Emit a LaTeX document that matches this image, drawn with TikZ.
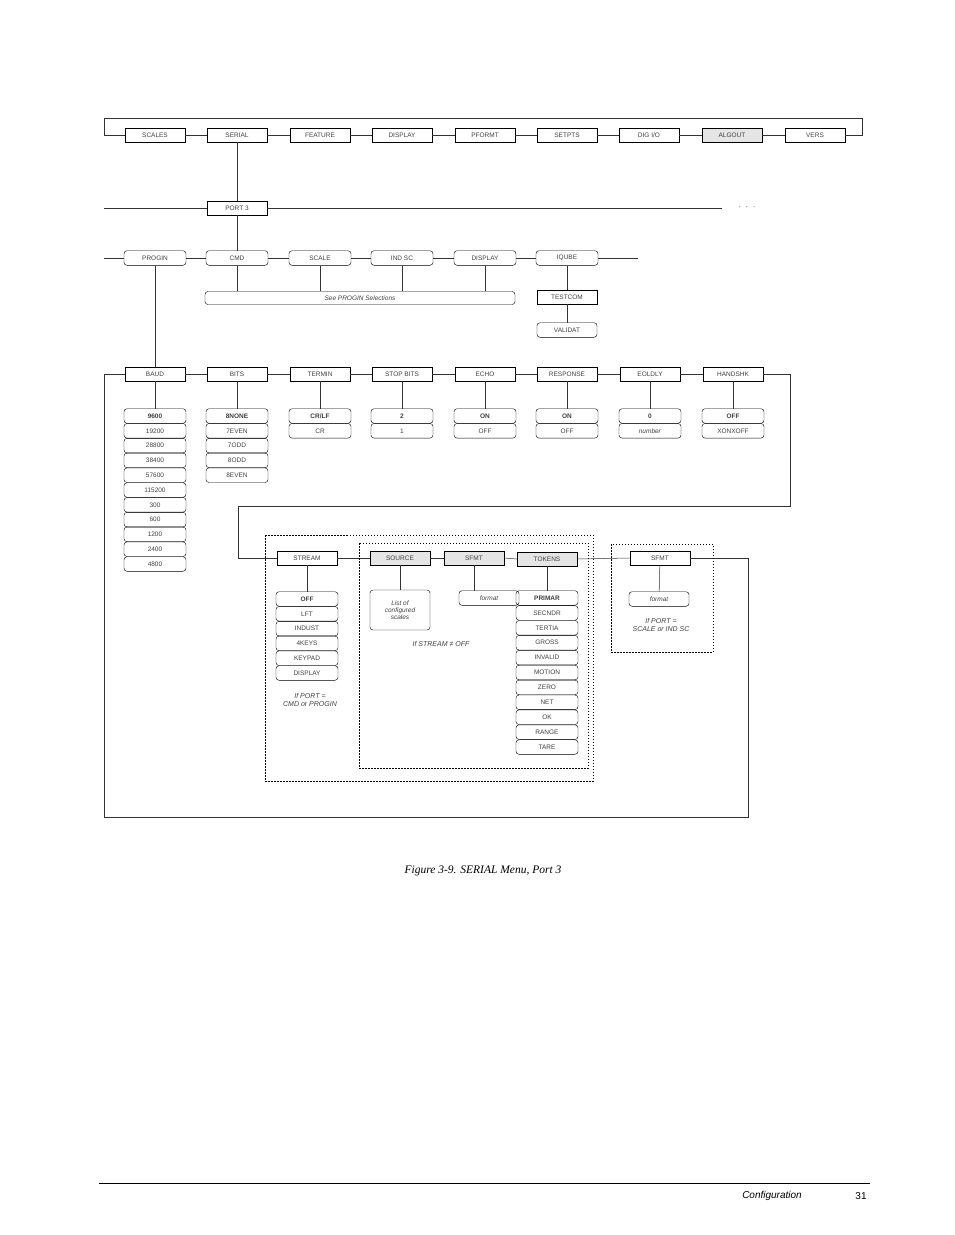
\documentclass[tikz,border=0pt]{standalone}
\usepackage{fontspec}
\setmainfont{Liberation Sans}
\newfontfamily\capfont{Liberation Serif}
\usetikzlibrary{positioning}

\tikzset{
  menu/.style={draw,shape=rectangle,minimum width=60pt,minimum height=14pt,
               inner sep=0pt,font=\fontsize{6.5}{7}\selectfont,text=black!75},
  shaded/.style={menu,fill=black!10},
  opt/.style={menu,rounded corners=3pt,minimum width=62pt,minimum height=14.6pt},
  note/.style={font=\fontsize{7}{8}\selectfont\itshape,text=black!75,align=center},
  wire/.style={draw,black!80,line width=0.5pt},
  fence/.style={draw,dashed,dash pattern=on 1.5pt off 1.5pt,line width=0.5pt}
}

\begin{document}
\begin{tikzpicture}[x=1pt,y=-1pt]
\useasboundingbox (0,0) rectangle (954,1235);

% Top level menu
\foreach \name/\lbl/\x in {scales/SCALES/155,serial/SERIAL/237,feature/FEATURE/320,
    display/DISPLAY/402,pformt/PFORMT/485,setpts/SETPTS/567,digio/DIG I\slash O/649,
    vers/VERS/815}
  \node [menu] (\name) at (\x,135) {\lbl};
\node [shaded] (algout) at (732,135) {ALGOUT};
\coordinate (tl) at (104,118);
\coordinate (tr) at (862,118);
\draw [wire] (scales.west) -- (104,135) -- (tl) -- (tr) -- (862,135) -- (vers.east);
\foreach \a/\b in {scales/serial,serial/feature,feature/display,display/pformt,
    pformt/setpts,setpts/digio,digio/algout,algout/vers}
  \draw [wire] (\a.east) -- (\b.west);

% Port 3
\node [menu] (port) at (237,208) {PORT 3};
\coordinate (portl) at (104,208);
\coordinate (portr) at (722,208);
\draw [wire] (serial) -- (port);
\draw [wire] (portl) -- (port.west);
\draw [wire] (port.east) -- (portr);
\node [font=\fontsize{9}{9}\selectfont] (more) at (747,207) {$\cdot\ \cdot\ \cdot$};

% Port modes
\foreach \name/\lbl/\x in {progin/PROGIN/155,cmd/CMD/237,scale/SCALE/320,
    indsc/IND SC/402,pdisp/DISPLAY/485,iqube/IQUBE/567}
  \node [opt] (\name) at (\x,258) {\lbl};
\coordinate (model) at (104,258);
\coordinate (moder) at (638,258);
\draw [wire] (model) -- (progin.west);
\draw [wire] (iqube.east) -- (moder);
\foreach \a/\b in {progin/cmd,cmd/scale,scale/indsc,indsc/pdisp,pdisp/iqube}
  \draw [wire] (\a.east) -- (\b.west);
\draw [wire] (port) -- (cmd);

\node [opt,minimum width=310pt,minimum height=13pt,font=\fontsize{6.5}{7}\selectfont\itshape]
  (seeprog) at (360,298) {See PROGIN Selections};
\foreach \a in {cmd,scale,indsc,pdisp}
  \draw [wire] (\a.south) -- (\a.south |- seeprog.north);

\node [menu] (testcom) at (567,297) {TESTCOM};
\node [opt,minimum width=60pt] (validat) at (567,330) {VALIDAT};
\draw [wire] (iqube) -- (testcom);
\draw [wire] (testcom) -- (validat);

% Serial parameters
\foreach \name/\lbl/\x in {baud/BAUD/155,bits/BITS/237,termin/TERMIN/320,
    stopb/STOP BITS/402,echo/ECHO/485,resp/RESPONSE/567,eoldly/EOLDLY/650,
    handshk/HANDSHK/733}
  \node [menu] (\name) at (\x,374) {\lbl};
\foreach \a/\b in {baud/bits,bits/termin,termin/stopb,stopb/echo,echo/resp,
    resp/eoldly,eoldly/handshk}
  \draw [wire] (\a.east) -- (\b.west);
\draw [wire] (progin) -- (baud);

% Value lists
\foreach \lbl [count=\i] in {19200,28800,38400,57600,115200,300,600,1200,2400,4800}
  \node [opt] (baud\i) at (155,416+\i*14.8) {\lbl};
\node [opt,font=\fontsize{6.5}{7}\selectfont\bfseries] (baud0) at (155,416) {9600};
\foreach \lbl [count=\i] in {7EVEN,7ODD,8ODD,8EVEN}
  \node [opt] (bits\i) at (237,416+\i*14.8) {\lbl};
\node [opt,font=\fontsize{6.5}{7}\selectfont\bfseries] (bits0) at (237,416) {8NONE};
\foreach \name/\x/\first/\second in {termin/320/CR\slash LF/CR,stopb/402/2/1,
    echo/485/ON/OFF,resp/567/ON/OFF,eoldly/650/0/\textit{number},handshk/733/OFF/XONXOFF}
{
  \node [opt,font=\fontsize{6.5}{7}\selectfont\bfseries] (\name0) at (\x,416) {\first};
  \node [opt] (\name1) at (\x,430.8) {\second};
}
\foreach \a in {baud,bits,termin,stopb,echo,resp,eoldly,handshk}
  \draw [wire] (\a) -- (\a0);

% Stream settings
\node [menu] (stream) at (307,558) {STREAM};
\node [shaded] (source) at (400,558) {SOURCE};
\node [shaded] (sfmt) at (474,558) {SFMT};
\node [shaded] (tokens) at (547,559) {TOKENS};
\node [menu] (sfmtb) at (660,558) {SFMT};
\foreach \a/\b in {stream/source,source/sfmt,sfmt/tokens,tokens/sfmtb}
  \draw [wire] (\a.east) -- (\b.west);

% Loop lines
\coordinate (la) at (104,374);
\coordinate (lb) at (104,817);
\coordinate (lc) at (748,817);
\coordinate (ld) at (748,558);
\draw [wire] (baud.west) -- (la) -- (lb) -- (lc) -- (ld) -- (sfmtb.east);
\coordinate (ra) at (790,374);
\coordinate (rb) at (790,506);
\coordinate (rc) at (238,506);
\coordinate (rd) at (238,558);
\draw [wire] (handshk.east) -- (ra) -- (rb) -- (rc) -- (rd) -- (stream.west);

\foreach \lbl [count=\i] in {LFT,INDUST,4KEYS,KEYPAD,DISPLAY}
  \node [opt,minimum width=62pt] (stream\i) at (307,599+\i*14.8) {\lbl};
\node [opt,font=\fontsize{6.5}{7}\selectfont\bfseries] (stream0) at (307,599) {OFF};
\draw [wire] (stream) -- (stream0);
\node [note] (ifcmd) at (310,700) {If PORT =\\CMD or PROGIN};

\node [opt,minimum width=60pt,minimum height=40pt,align=center,
       font=\fontsize{6.5}{7}\selectfont\itshape] (scalelist) at (400,610)
  {List of\\configured\\scales};
\draw [wire] (source) -- (scalelist);
\node [opt,minimum width=60pt,font=\fontsize{6.5}{7}\selectfont\itshape] (fmt) at (489,598) {format};
\draw [wire] (sfmt) -- (sfmt |- fmt.north);
\node [note] (ifstream) at (441,644) {If STREAM ≠ OFF};

\foreach \lbl [count=\i] in {SECNDR,TERTIA,GROSS,INVALID,MOTION,ZERO,NET,OK,RANGE,TARE}
  \node [opt] (tok\i) at (547,598+\i*14.9) {\lbl};
\node [opt,font=\fontsize{6.5}{7}\selectfont\bfseries] (tok0) at (547,598) {PRIMAR};
\draw [wire] (tokens) -- (tok0);

\node [opt,minimum width=60pt,font=\fontsize{6.5}{7}\selectfont\itshape] (fmtb) at (659,599) {format};
\draw [wire] (sfmtb) -- (fmtb);
\node [note] (ifport) at (661,625) {If PORT =\\SCALE or IND SC};

% Dashed groups
\draw [fence] (265,535) rectangle (593,781);
\draw [fence] (359,543) rectangle (588,768);
\draw [fence] (611,544) rectangle (713,652);

% Caption and footer
\node [font=\capfont\itshape\fontsize{11.5}{12}\selectfont] (caption) at (483,871)
  {Figure 3-9. SERIAL Menu, Port 3};
\coordinate (fl) at (99,1183);
\coordinate (fr) at (870,1183);
\draw [line width=0.6pt] (fl) -- (fr);
\node [font=\itshape\fontsize{10}{11}\selectfont] (chap) at (772,1196) {Configuration};
\node [font=\fontsize{10}{11}\selectfont] (page) at (861,1196) {31};
\end{tikzpicture}
\end{document}
